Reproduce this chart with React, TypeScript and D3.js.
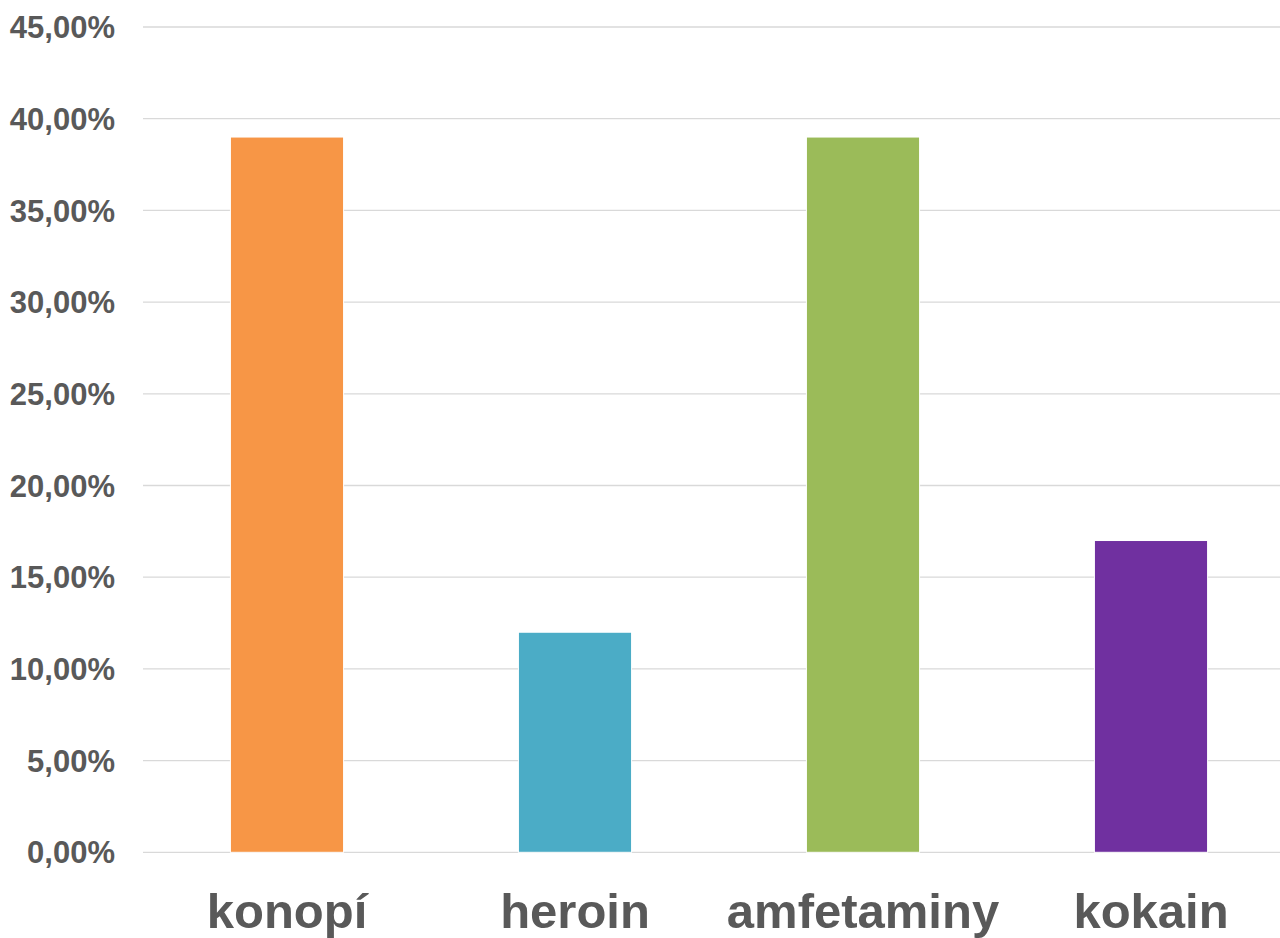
import React from "react";
import * as d3 from "d3";

const categories = ["konopí", "heroin", "amfetaminy", "kokain"];
const values = [0.39, 0.12, 0.39, 0.17];
const colors = ["#F79646", "#4BACC6", "#9BBB59", "#7030A0"];
const yTicks = [0, 0.05, 0.1, 0.15, 0.2, 0.25, 0.3, 0.35, 0.4, 0.45];

const W = 1280;
const H = 938;

export default function App() {
  const y = d3.scaleLinear().domain([0, 0.45]).range([852.3, 27]);
  const x = d3
    .scaleBand<string>()
    .domain(categories)
    .range([143, 1295])
    .paddingInner(0.607)
    .paddingOuter(0.3035);
  const fmt = (v: number) => (v * 100).toFixed(2).replace(".", ",") + "%";
  const font = "'Liberation Sans', Arial, sans-serif";
  return (
    <svg
      width={W}
      height={H}
      style={{ position: "absolute", left: 0, top: 0, background: "#fff" }}
    >
      {yTicks.map((t) => (
        <g key={t}>
          <line x1={143} x2={1280} y1={y(t)} y2={y(t)} stroke="#D9D9D9" strokeWidth={1.3} />
          <text
            x={115}
            y={y(t)}
            dy="0.36em"
            textAnchor="end"
            fontFamily={font}
            fontWeight="bold"
            fontSize={31}
            fill="#595959"
          >
            {fmt(t)}
          </text>
        </g>
      ))}
      {categories.map((c, i) => (
        <rect
          key={c}
          x={x(c)}
          y={y(values[i])}
          width={x.bandwidth()}
          height={y(0) - y(values[i])}
          fill={colors[i]}
          stroke="#fff"
          strokeWidth={1}
        />
      ))}
      {categories.map((c) => (
        <text
          key={c}
          x={(x(c) as number) + x.bandwidth() / 2}
          y={928}
          textAnchor="middle"
          fontFamily={font}
          fontWeight="bold"
          fontSize={49}
          fill="#595959"
        >
          {c}
        </text>
      ))}
    </svg>
  );
}
